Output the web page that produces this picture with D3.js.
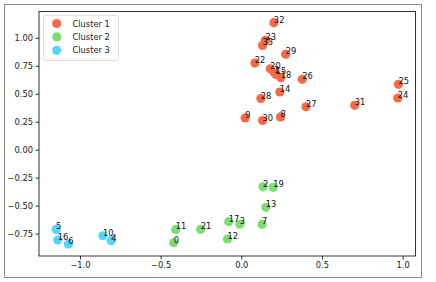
<!DOCTYPE html>
<html><head><meta charset="utf-8">
<script src="https://cdn.jsdelivr.net/npm/d3@7"></script>
<style>
html,body{margin:0;padding:0;background:#fff;}
svg{display:block;font-family:"DejaVu Sans",sans-serif;}
</style></head>
<body><svg id="c" width="436" height="282"></svg>
<script>
const seriesNames = ["Cluster 1", "Cluster 2", "Cluster 3"];
const seriesColors = ["#f86a45", "#7ddc72", "#55d6fa"];

const cluster1Ids = [32, 23, 33, 29, 22, 20, 1, 15, 18, 26, 14, 28, 27, 31, 25, 24, 9, 30, 8];
const cluster1X = [0.202, 0.150, 0.132, 0.275, 0.084, 0.180, 0.205, 0.214, 0.245, 0.378, 0.239, 0.121, 0.401, 0.703, 0.974, 0.970, 0.024, 0.132, 0.243];
const cluster1Y = [1.136, 0.978, 0.933, 0.853, 0.775, 0.723, 0.688, 0.674, 0.643, 0.629, 0.516, 0.457, 0.384, 0.397, 0.585, 0.462, 0.284, 0.261, 0.293];

const cluster2Ids = [2, 19, 13, 17, 3, 7, 11, 21, 12, 0];
const cluster2X = [0.135, 0.198, 0.152, -0.078, -0.009, 0.129, -0.407, -0.252, -0.086, -0.419];
const cluster2Y = [-0.332, -0.337, -0.516, -0.644, -0.667, -0.667, -0.713, -0.713, -0.799, -0.832];

const cluster3Ids = [5, 16, 6, 10, 4];
const cluster3X = [-1.148, -1.138, -1.072, -0.858, -0.806];
const cluster3Y = [-0.713, -0.808, -0.844, -0.770, -0.814];

const xTicks = [-1.0, -0.5, 0.0, 0.5, 1.0];
const yTicks = [-0.75, -0.50, -0.25, 0.00, 0.25, 0.50, 0.75, 1.00];
const xDomain = [-1.254, 1.080];
const yDomain = [-0.951, 1.236];

const series = [
  {ids: cluster1Ids, xs: cluster1X, ys: cluster1Y},
  {ids: cluster2Ids, xs: cluster2X, ys: cluster2Y},
  {ids: cluster3Ids, xs: cluster3X, ys: cluster3Y}
];

const svg = d3.select("#c");
const L = 39, R = 415.5, T = 11.5, B = 256;
const x = d3.scaleLinear().domain(xDomain).range([L, R]);
const y = d3.scaleLinear().domain(yDomain).range([B, T]);
const fmtMinus = s => s.replace("-", "\u2212");

// outer figure frame
svg.append("rect").attr("x", 4.5).attr("y", 4.5).attr("width", 417).attr("height", 273)
  .attr("fill", "none").attr("stroke", "#8c8c8c").attr("stroke-width", 1);

// points
series.forEach((s, si) => {
  const g = svg.append("g");
  g.selectAll("circle").data(s.ids).join("circle")
    .attr("cx", (d, i) => x(s.xs[i])).attr("cy", (d, i) => y(s.ys[i]))
    .attr("r", 4.6).attr("fill", seriesColors[si]);
});
// labels
series.forEach((s) => {
  svg.append("g").selectAll("text").data(s.ids).join("text")
    .attr("x", (d, i) => x(s.xs[i])).attr("y", (d, i) => y(s.ys[i]))
    .attr("font-size", 8.3).attr("fill", "#111").text(d => d);
});

// axes
const xAxis = d3.axisBottom(x).tickValues(xTicks).tickSize(3.5).tickPadding(2.5)
  .tickFormat(d => fmtMinus(d3.format(".1f")(d)));
const yAxis = d3.axisLeft(y).tickValues(yTicks).tickSize(3.5).tickPadding(2.5)
  .tickFormat(d => fmtMinus(d3.format(".2f")(d)));
const gx = svg.append("g").attr("transform", `translate(0,${B})`).call(xAxis);
const gy = svg.append("g").attr("transform", `translate(${L},0)`).call(yAxis);
[gx, gy].forEach(g => {
  g.select(".domain").remove();
  g.selectAll("line").attr("stroke", "#000").attr("stroke-width", 0.8);
  g.selectAll("text").attr("font-size", 8.3).attr("fill", "#222")
    .attr("font-family", "DejaVu Sans, sans-serif");
});
// spines
svg.append("rect").attr("x", L).attr("y", T).attr("width", R - L).attr("height", B - T)
  .attr("fill", "none").attr("stroke", "#000").attr("stroke-width", 0.8);

// legend
const lg = svg.append("g");
lg.append("rect").attr("x", 43.5).attr("y", 15.5).attr("width", 75).attr("height", 45)
  .attr("rx", 2).attr("fill", "#fff").attr("fill-opacity", 0.8)
  .attr("stroke", "#d6d6d6").attr("stroke-width", 0.8);
seriesNames.forEach((n, i) => {
  const cy = 23.5 + i * 13.4;
  lg.append("circle").attr("cx", 56.7).attr("cy", cy).attr("r", 4.6).attr("fill", seriesColors[i]);
  lg.append("text").attr("x", 72.5).attr("y", cy + 3).attr("font-size", 8.3).attr("fill", "#222").text(n);
});
</script></body></html>
